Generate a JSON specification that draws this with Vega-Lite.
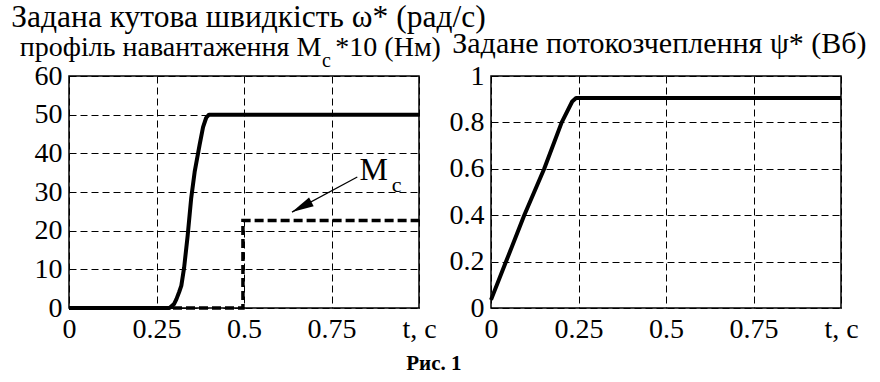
{
  "$schema": "https://vega.github.io/schema/vega-lite/v6.json",
  "background": "white",
  "padding": {"left": 10, "top": 0, "right": 5, "bottom": 5},
  "config": {
    "font": "Liberation Serif",
    "view": {"stroke": "black", "strokeWidth": 1.5},
    "style": {"guide-label": {"font": "Liberation Serif", "fontSize": 28, "fill": "black"}},
    "axis": {
      "labelFont": "Liberation Serif",
      "labelFontSize": 28,
      "labelColor": "black",
      "ticks": false,
      "domain": false,
      "grid": true,
      "gridColor": "black",
      "gridDash": [7, 4],
      "gridWidth": 1,
      "gridOpacity": 1,
      "labelPadding": 7,
      "labelOverlap": false,
      "labelFlush": false,
      "tickCount": 12
    }
  },
  "title": {
    "text": "Рис. 1",
    "orient": "bottom",
    "anchor": "middle",
    "frame": "bounds",
    "fontSize": 21,
    "fontWeight": "bold",
    "font": "Liberation Serif",
    "color": "black",
    "offset": 9,
    "dx": -5
  },
  "spacing": 72,
  "bounds": "flush",
  "hconcat": [
    {
      "width": 350,
      "height": 232,
      "layer": [
        {
          "data": {"values": [
            {"i": 0, "t": 0, "v": 0},
            {"i": 1, "t": 0.287, "v": 0},
            {"i": 2, "t": 0.300, "v": 1},
            {"i": 3, "t": 0.307, "v": 2.3},
            {"i": 4, "t": 0.315, "v": 4.2},
            {"i": 5, "t": 0.321, "v": 5.8},
            {"i": 6, "t": 0.329, "v": 10.5},
            {"i": 7, "t": 0.339, "v": 18.7},
            {"i": 8, "t": 0.349, "v": 28.3},
            {"i": 9, "t": 0.359, "v": 35.2},
            {"i": 10, "t": 0.373, "v": 42.1},
            {"i": 11, "t": 0.383, "v": 46.8},
            {"i": 12, "t": 0.392, "v": 49.2},
            {"i": 13, "t": 0.400, "v": 50},
            {"i": 14, "t": 1, "v": 50}
          ]},
          "mark": {"type": "line", "color": "black", "strokeWidth": 4, "strokeJoin": "round"},
          "encoding": {
            "x": {"field": "t", "type": "quantitative", "scale": {"domain": [0, 1], "nice": false},
                  "axis": {"title": null, "tickCount": 12, "values": [0, 0.25, 0.5, 0.75, 1], "labelFont": "Liberation Serif", "labelFontSize": 28, "labelOverlap": false,
                           "labelExpr": "datum.value == 1 ? 't, c' : format(datum.value, '~g')"}},
            "y": {"field": "v", "type": "quantitative", "scale": {"domain": [0, 60], "nice": false},
                  "axis": {"title": null, "tickCount": 12, "values": [0, 10, 20, 30, 40, 50, 60], "labelFont": "Liberation Serif", "labelFontSize": 28, "labelOverlap": false, "format": "d"}},
            "order": {"field": "i", "type": "quantitative"}
          }
        },
        {
          "data": {"values": [
            {"i": 0, "t": 0, "v": 0},
            {"i": 1, "t": 0.497, "v": 0},
            {"i": 2, "t": 0.497, "v": 22.6},
            {"i": 3, "t": 1, "v": 22.6}
          ]},
          "mark": {"type": "line", "color": "black", "strokeWidth": 3.5, "strokeDash": [9, 4]},
          "encoding": {
            "x": {"field": "t", "type": "quantitative", "title": null},
            "y": {"field": "v", "type": "quantitative", "title": null},
            "order": {"field": "i", "type": "quantitative"}
          }
        },
        {
          "data": {"values": [{"t": 0.8237, "v": 33.87, "t2": 0.637, "v2": 24.8}]},
          "mark": {"type": "rule", "color": "black", "strokeWidth": 1.2},
          "encoding": {
            "x": {"field": "t", "type": "quantitative", "title": null},
            "y": {"field": "v", "type": "quantitative", "title": null},
            "x2": {"field": "t2"},
            "y2": {"field": "v2"}
          }
        },
        {
          "data": {"values": [{"t": 0.637, "v": 24.8}]},
          "mark": {"type": "point", "shape": "M0,0 L0.45,2 L-0.45,2 Z", "filled": true, "color": "black", "opacity": 1, "size": 484, "angle": 242, "strokeWidth": 0},
          "encoding": {
            "x": {"field": "t", "type": "quantitative", "title": null},
            "y": {"field": "v", "type": "quantitative", "title": null}
          }
        },
        {
          "data": {"values": [{"t": 0.830, "v": 33.0, "label": "M"}]},
          "mark": {"type": "text", "align": "left", "baseline": "alphabetic", "fontSize": 32, "color": "black", "font": "Liberation Serif"},
          "encoding": {
            "x": {"field": "t", "type": "quantitative", "title": null},
            "y": {"field": "v", "type": "quantitative", "title": null},
            "text": {"field": "label"}
          }
        },
        {
          "data": {"values": [{"t": 0.922, "v": 30.0, "label": "c"}]},
          "mark": {"type": "text", "align": "left", "baseline": "alphabetic", "fontSize": 22, "color": "black", "font": "Liberation Serif"},
          "encoding": {
            "x": {"field": "t", "type": "quantitative", "title": null},
            "y": {"field": "v", "type": "quantitative", "title": null},
            "text": {"field": "label"}
          }
        },
        {
          "data": {"values": [
            {"t": -0.165, "v": 72.8, "label": "Задана кутова швидкість ω* (рад/с)"}
          ]},
          "mark": {"type": "text", "align": "left", "baseline": "alphabetic", "fontSize": 31.5, "color": "black", "font": "Liberation Serif"},
          "encoding": {
            "x": {"field": "t", "type": "quantitative", "title": null},
            "y": {"field": "v", "type": "quantitative", "title": null},
            "text": {"field": "label"}
          }
        },
        {
          "data": {"values": [
            {"t": 0.721, "v": 65.3, "label": "профіль навантаження M"}
          ]},
          "mark": {"type": "text", "align": "right", "baseline": "alphabetic", "fontSize": 28, "color": "black", "font": "Liberation Serif"},
          "encoding": {
            "x": {"field": "t", "type": "quantitative", "title": null},
            "y": {"field": "v", "type": "quantitative", "title": null},
            "text": {"field": "label"}
          }
        },
        {
          "data": {"values": [
            {"t": 0.7226, "v": 62.4, "label": "c"}
          ]},
          "mark": {"type": "text", "align": "left", "baseline": "alphabetic", "fontSize": 20, "color": "black", "font": "Liberation Serif"},
          "encoding": {
            "x": {"field": "t", "type": "quantitative", "title": null},
            "y": {"field": "v", "type": "quantitative", "title": null},
            "text": {"field": "label"}
          }
        },
        {
          "data": {"values": [
            {"t": 0.761, "v": 65.3, "label": "*10 (Нм)"}
          ]},
          "mark": {"type": "text", "align": "left", "baseline": "alphabetic", "fontSize": 28, "color": "black", "font": "Liberation Serif"},
          "encoding": {
            "x": {"field": "t", "type": "quantitative", "title": null},
            "y": {"field": "v", "type": "quantitative", "title": null},
            "text": {"field": "label"}
          }
        }
      ]
    },
    {
      "width": 350,
      "height": 232,
      "layer": [
        {
          "data": {"values": [
            {"i": 0, "t": 0, "v": 0.035},
            {"i": 1, "t": 0.043, "v": 0.2},
            {"i": 2, "t": 0.095, "v": 0.4},
            {"i": 3, "t": 0.152, "v": 0.6},
            {"i": 4, "t": 0.202, "v": 0.8},
            {"i": 5, "t": 0.232, "v": 0.89},
            {"i": 6, "t": 0.243, "v": 0.905},
            {"i": 7, "t": 1, "v": 0.905}
          ]},
          "mark": {"type": "line", "color": "black", "strokeWidth": 4, "strokeJoin": "round"},
          "encoding": {
            "x": {"field": "t", "type": "quantitative", "scale": {"domain": [0, 1], "nice": false},
                  "axis": {"title": null, "tickCount": 12, "values": [0, 0.25, 0.5, 0.75, 1], "labelFont": "Liberation Serif", "labelFontSize": 28, "labelOverlap": false,
                           "labelExpr": "datum.value == 1 ? 't, c' : format(datum.value, '~g')"}},
            "y": {"field": "v", "type": "quantitative", "scale": {"domain": [0, 1], "nice": false},
                  "axis": {"title": null, "tickCount": 12, "values": [0, 0.2, 0.4, 0.6, 0.8, 1], "labelFont": "Liberation Serif", "labelFontSize": 28, "labelOverlap": false,
                           "labelExpr": "format(datum.value, '~g')"}},
            "order": {"field": "i", "type": "quantitative"}
          }
        },
        {
          "data": {"values": [
            {"t": 0.481, "v": 1.097, "label": "Задане потокозчеплення ψ* (Вб)"}
          ]},
          "mark": {"type": "text", "align": "center", "baseline": "alphabetic", "fontSize": 30, "color": "black", "font": "Liberation Serif"},
          "encoding": {
            "x": {"field": "t", "type": "quantitative", "title": null},
            "y": {"field": "v", "type": "quantitative", "title": null},
            "text": {"field": "label"}
          }
        }
      ]
    }
  ]
}
